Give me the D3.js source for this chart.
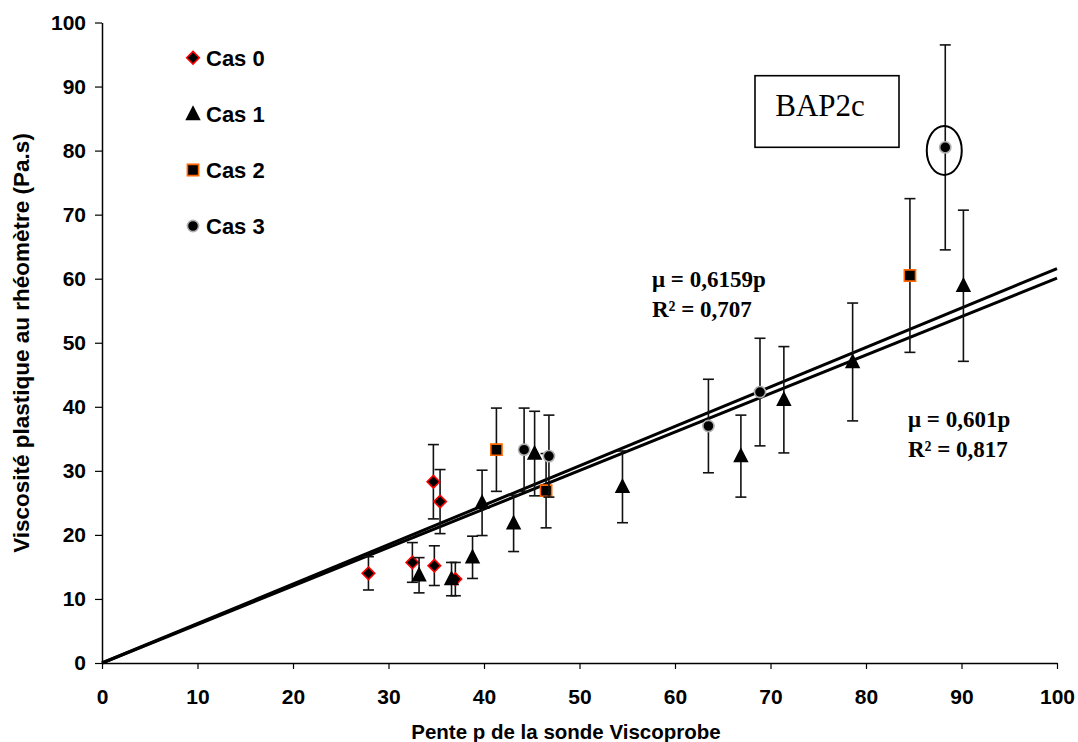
<!DOCTYPE html>
<html>
<head>
<meta charset="utf-8">
<script src="https://cdn.jsdelivr.net/npm/d3@7"></script>
<style>
  html, body { margin: 0; padding: 0; background: #fff; }
  svg { display: block; }
</style>
</head>
<body>
<svg id="chart" width="1078" height="742"></svg>
<script>
// ---- data ----
const xTicks = [0, 10, 20, 30, 40, 50, 60, 70, 80, 90, 100];
const yTicks = [0, 10, 20, 30, 40, 50, 60, 70, 80, 90, 100];

const seriesNames = ["Cas 0", "Cas 1", "Cas 2", "Cas 3"];

const cas0X = [27.9, 32.5, 34.8, 34.7, 35.4, 37.0];
const cas0Y = [14.0, 15.7, 15.2, 28.3, 25.2, 13.1];
const cas0Err = [2.6, 3.1, 3.1, 5.8, 5.0, 2.6];

const cas1X = [33.2, 36.6, 38.8, 39.8, 43.1, 45.3, 54.5, 66.9, 71.4, 78.6, 90.2];
const cas1Y = [13.7, 13.1, 16.5, 25.0, 21.8, 32.7, 27.5, 32.3, 41.1, 47.0, 58.9];
const cas1Err = [2.75, 2.6, 3.3, 5.1, 4.4, 6.6, 5.6, 6.4, 8.3, 9.2, 11.8];

const cas2X = [41.3, 46.5, 84.6];
const cas2Y = [33.3, 26.9, 60.5];
const cas2Err = [6.5, 5.8, 12.0];

const cas3X = [44.2, 46.8, 63.5, 68.9, 88.3];
const cas3Y = [33.3, 32.3, 37.0, 42.3, 80.5];
const cas3Err = [6.5, 6.4, 7.3, 8.4, 16.0];

const trendSlopes = [0.6159, 0.601];
const trendLabels = [["μ = 0,6159p", "R² = 0,707"], ["μ = 0,601p", "R² = 0,817"]];
const highlighted = { series: 3, index: 4 };
const boxLabel = "BAP2c";
const xTitle = "Pente p de la sonde Viscoprobe";
const yTitle = "Viscosité plastique au rhéomètre (Pa.s)";

// ---- setup ----
const svg = d3.select("#chart");
const sans = "'Liberation Sans', Arial, sans-serif";
const serif = "'Liberation Serif', 'Times New Roman', serif";

const x = d3.scaleLinear().domain([0, 100]).range([102, 1057]);
const y = d3.scaleLinear().domain([0, 100]).range([663, 22.5]);

// axes
const xAxis = svg.append("g").attr("transform", `translate(0,${y(0)})`)
  .call(d3.axisBottom(x).tickValues(xTicks).tickSize(6).tickSizeOuter(0).tickPadding(20));
const yAxis = svg.append("g").attr("transform", `translate(${x(0)},0)`)
  .call(d3.axisLeft(y).tickValues(yTicks).tickSize(7).tickSizeOuter(0).tickPadding(9));
[xAxis, yAxis].forEach(a => {
  a.selectAll("path.domain").attr("stroke", "#000").attr("stroke-width", 1.5);
  a.selectAll(".tick line").attr("stroke", "#000").attr("stroke-width", 1.2);
  a.selectAll(".tick text").attr("fill", "#000")
    .style("font-family", sans).style("font-weight", "bold").style("font-size", "21px");
});

// axis titles
svg.append("text").attr("x", 566).attr("y", 739).attr("text-anchor", "middle")
  .style("font-family", sans).style("font-weight", "bold").style("font-size", "20.5px")
  .text(xTitle);
svg.append("text").attr("transform", `translate(29,${343}) rotate(-90)`).attr("text-anchor", "middle")
  .style("font-family", sans).style("font-weight", "bold").style("font-size", "22.5px")
  .text(yTitle);

// trend lines
trendSlopes.forEach(s => {
  svg.append("line")
    .attr("x1", x(0)).attr("y1", y(0)).attr("x2", x(100)).attr("y2", y(100 * s))
    .attr("stroke", "#000").attr("stroke-width", 3);
});

// series definitions
const series = [
  { xs: cas0X, ys: cas0Y, es: cas0Err, shape: "diamond", fill: "#000", stroke: "#ff0000" },
  { xs: cas1X, ys: cas1Y, es: cas1Err, shape: "triangle", fill: "#000", stroke: "#000" },
  { xs: cas2X, ys: cas2Y, es: cas2Err, shape: "square", fill: "#000", stroke: "#ff6600" },
  { xs: cas3X, ys: cas3Y, es: cas3Err, shape: "circle", fill: "#000", stroke: "#b0b0b0" }
];

function shapePath(shape, s) {
  switch (shape) {
    case "diamond": return `M0,${-s}L${s},0L0,${s}L${-s},0Z`;
    case "triangle": return `M0,${-s * 1.1}L${s},${s * 0.85}L${-s},${s * 0.85}Z`;
    case "square": return `M${-s},${-s}H${s}V${s}H${-s}Z`;
    case "circle": return `M${s},0A${s},${s} 0 1,1 ${-s},0A${s},${s} 0 1,1 ${s},0Z`;
  }
}
const markerSize = { diamond: 6.3, triangle: 6.4, square: 5.6, circle: 5.6 };

series.forEach(sr => {
  const g = svg.append("g");
  const pts = sr.xs.map((v, i) => ({ x: v, y: sr.ys[i], e: sr.es[i] }));
  const eb = g.selectAll("g.eb").data(pts).enter().append("g")
    .attr("stroke", "#111").attr("stroke-width", 1.6);
  eb.append("line").attr("x1", d => x(d.x)).attr("x2", d => x(d.x))
    .attr("y1", d => y(d.y + d.e)).attr("y2", d => y(d.y - d.e));
  eb.append("line").attr("x1", d => x(d.x) - 5.5).attr("x2", d => x(d.x) + 5.5)
    .attr("y1", d => y(d.y + d.e)).attr("y2", d => y(d.y + d.e));
  eb.append("line").attr("x1", d => x(d.x) - 5.5).attr("x2", d => x(d.x) + 5.5)
    .attr("y1", d => y(d.y - d.e)).attr("y2", d => y(d.y - d.e));
  g.selectAll("path.m").data(pts).enter().append("path")
    .attr("transform", d => `translate(${x(d.x)},${y(d.y)})`)
    .attr("d", shapePath(sr.shape, markerSize[sr.shape]))
    .attr("fill", sr.fill).attr("stroke", sr.stroke).attr("stroke-width", 1.6);
});

// highlight ellipse
const hs = series[highlighted.series];
svg.append("ellipse")
  .attr("cx", x(hs.xs[highlighted.index]) - 1).attr("cy", y(hs.ys[highlighted.index]) + 3)
  .attr("rx", 17.5).attr("ry", 24.5)
  .attr("fill", "none").attr("stroke", "#000").attr("stroke-width", 2);

// legend
const legendY = [57.7, 114, 170, 226];
seriesNames.forEach((name, i) => {
  const sr = series[i];
  svg.append("path").attr("transform", `translate(193,${legendY[i]})`)
    .attr("d", shapePath(sr.shape, markerSize[sr.shape]))
    .attr("fill", sr.fill).attr("stroke", sr.stroke).attr("stroke-width", 1.6);
  svg.append("text").attr("x", 206).attr("y", legendY[i] + 8)
    .style("font-family", sans).style("font-weight", "bold").style("font-size", "22px")
    .text(name);
});

// BAP2c box
svg.append("rect").attr("x", 755).attr("y", 75.7).attr("width", 144).attr("height", 71.6)
  .attr("fill", "#fff").attr("stroke", "#000").attr("stroke-width", 1.6);
svg.append("text").attr("x", 820).attr("y", 116).attr("text-anchor", "middle")
  .style("font-family", serif).style("font-size", "31px").text(boxLabel);

// trend labels
const labelPos = [[652, 286.5], [908, 426.5]];
trendLabels.forEach((lines, k) => {
  lines.forEach((t, j) => {
    svg.append("text").attr("x", labelPos[k][0]).attr("y", labelPos[k][1] + j * 30)
      .style("font-family", serif).style("font-weight", "bold").style("font-size", "23px")
      .text(t);
  });
});
</script>
</body>
</html>
